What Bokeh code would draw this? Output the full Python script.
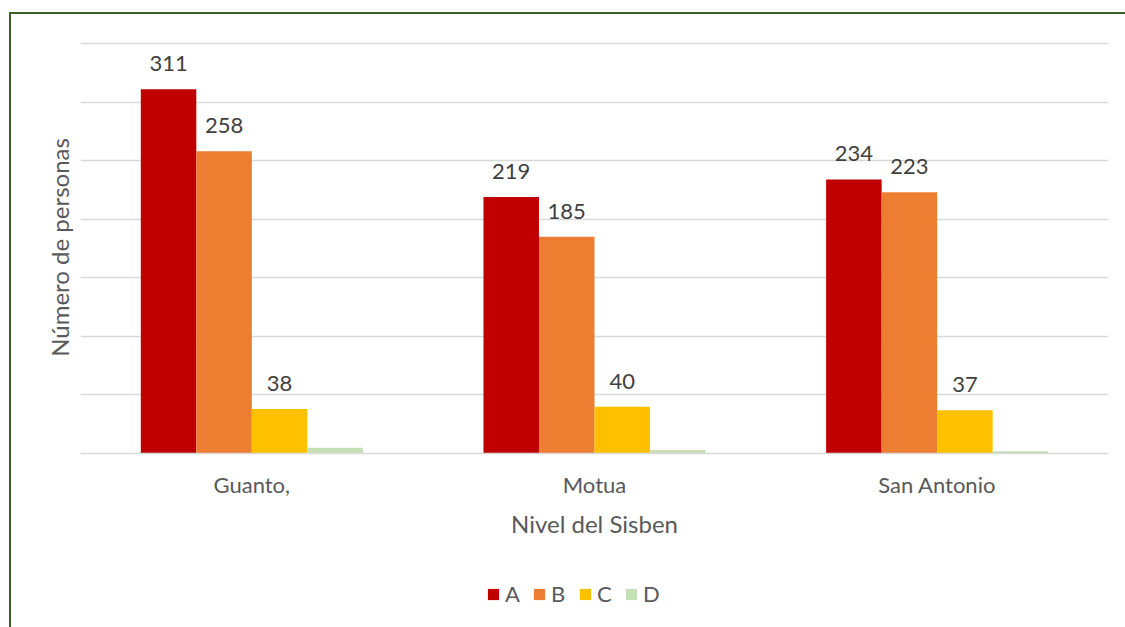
from bokeh.plotting import figure
from bokeh.models import (ColumnDataSource, FactorRange, Range1d, FixedTicker,
                          Legend, LegendItem, Label)
from bokeh.layouts import column
from bokeh.core.properties import value
from bokeh.transform import dodge
from bokeh.embed import file_html
from bokeh.resources import INLINE

categories = ["Guanto,", "Motua", "San Antonio"]
series_names = ["A", "B", "C", "D"]
A = [311, 219, 234]
B = [258, 185, 223]
C = [38, 40, 37]
D = [5, 3, 2]
colors = ["#C00000", "#ED7D31", "#FFC000", "#C5E0B4"]
grid_ticks = [0, 50, 100, 150, 200, 250, 300, 350]
title_text = "Gámeza."

FONT = "Lato"
W = 0.162
offsets = [-1.5 * W, -0.5 * W, 0.5 * W, 1.5 * W]
BORDER = "#3B5E2B"

src = ColumnDataSource(dict(cat=categories, A=A, B=B, C=C, D=D,
                            A_t=[str(v) for v in A], B_t=[str(v) for v in B],
                            C_t=[str(v) for v in C]))

p = figure(x_range=FactorRange(*categories, range_padding=0), y_range=Range1d(0, 351.7),
           width=1125, height=565, output_backend="svg", toolbar_location=None,
           min_border_left=80, min_border_right=17, min_border_top=41, min_border_bottom=112)
p.outline_line_color = None
p.border_fill_color = None
p.background_fill_color = "white"

renderers = []
for name, off, col in zip(series_names, offsets, colors):
    r = p.vbar(x=dodge("cat", off, range=p.x_range), top=name, width=W, source=src,
               fill_color=col, line_color=None)
    renderers.append(r)

for name, off in zip(["A", "B", "C"], offsets[:3]):
    p.text(x=dodge("cat", off, range=p.x_range), y=name, text=name + "_t", source=src,
           text_align="center", text_baseline="bottom", y_offset=-18,
           text_font=value(FONT), text_font_size="22px", text_color="#404040")

# grid
p.xgrid.grid_line_color = None
p.ygrid.ticker = FixedTicker(ticks=grid_ticks)
p.ygrid.grid_line_color = "#D9D9D9"
p.ygrid.grid_line_width = 1.5

# y axis: only the title (tick labels hidden)
p.yaxis.ticker = FixedTicker(ticks=grid_ticks)
p.yaxis.major_label_overrides = {t: "" for t in grid_ticks}
p.yaxis.axis_line_color = None
p.yaxis.major_tick_line_color = None
p.yaxis.minor_tick_line_color = None
p.yaxis.major_tick_out = 0
p.yaxis.major_tick_in = 0
p.yaxis.major_label_standoff = 0
p.yaxis.axis_label = "Número de personas"
p.yaxis.axis_label_text_font = FONT
p.yaxis.axis_label_text_font_style = "normal"
p.yaxis.axis_label_text_font_size = "24px"
p.yaxis.axis_label_text_color = "#595959"
p.yaxis.axis_label_standoff = 7

# x axis
p.xaxis.axis_line_color = "#D9D9D9"
p.xaxis.axis_line_width = 1.5
p.xaxis.major_tick_line_color = None
p.xaxis.minor_tick_line_color = None
p.xaxis.major_label_text_font = FONT
p.xaxis.major_label_text_font_size = "22px"
p.xaxis.major_label_text_color = "#595959"
p.xaxis.major_label_standoff = 11
p.xaxis.axis_label = "Nivel del Sisben"
p.xaxis.axis_label_text_font = FONT
p.xaxis.axis_label_text_font_style = "normal"
p.xaxis.axis_label_text_font_size = "24px"
p.xaxis.axis_label_text_color = "#595959"
p.xaxis.axis_label_standoff = 8

# title, mostly cut off at the top edge as in the reference
p.add_layout(Label(x=495, y=449, x_units="screen", y_units="screen", text=title_text,
                   text_align="center", text_baseline="alphabetic", text_font=FONT,
                   text_font_size="24px", text_font_style="bold", text_color="black"))

# legend strip below the chart (zero-height swatch renderers)
leg = figure(width=1125, height=62, output_backend="svg", toolbar_location=None,
             x_range=Range1d(0, 1), y_range=Range1d(0, 1),
             x_axis_type=None, y_axis_type=None,
             min_border_left=0, min_border_right=0, min_border_top=0, min_border_bottom=0)
leg.outline_line_color = None
leg.border_fill_color = None
leg.background_fill_color = None
leg.xgrid.visible = False
leg.ygrid.visible = False
leg_renderers = []
for col in colors:
    leg_renderers.append(leg.vbar(x=[0.5], top=[0], bottom=[0], width=0.0,
                                  fill_color=col, line_color=None))

legend = Legend(items=[LegendItem(label=n, renderers=[r]) for n, r in zip(series_names, leg_renderers)],
                orientation="horizontal", location=(406, 20), border_line_color=None,
                background_fill_alpha=0, glyph_width=14, glyph_height=14, label_standoff=5,
                spacing=7, padding=0, margin=0,
                label_text_font=FONT, label_text_font_size="22px", label_text_color="#595959")
leg.add_layout(legend)

layout = column(p, leg, spacing=0)
layout.styles = {
    "background-image": f"linear-gradient({BORDER},{BORDER}), linear-gradient({BORDER},{BORDER})",
    "background-size": "calc(100% - 10px) 2px, 2px calc(100% - 12px)",
    "background-position": "10px 12px, 9px 12px",
    "background-repeat": "no-repeat",
}

open("out.html", "w").write(file_html(layout, INLINE))
